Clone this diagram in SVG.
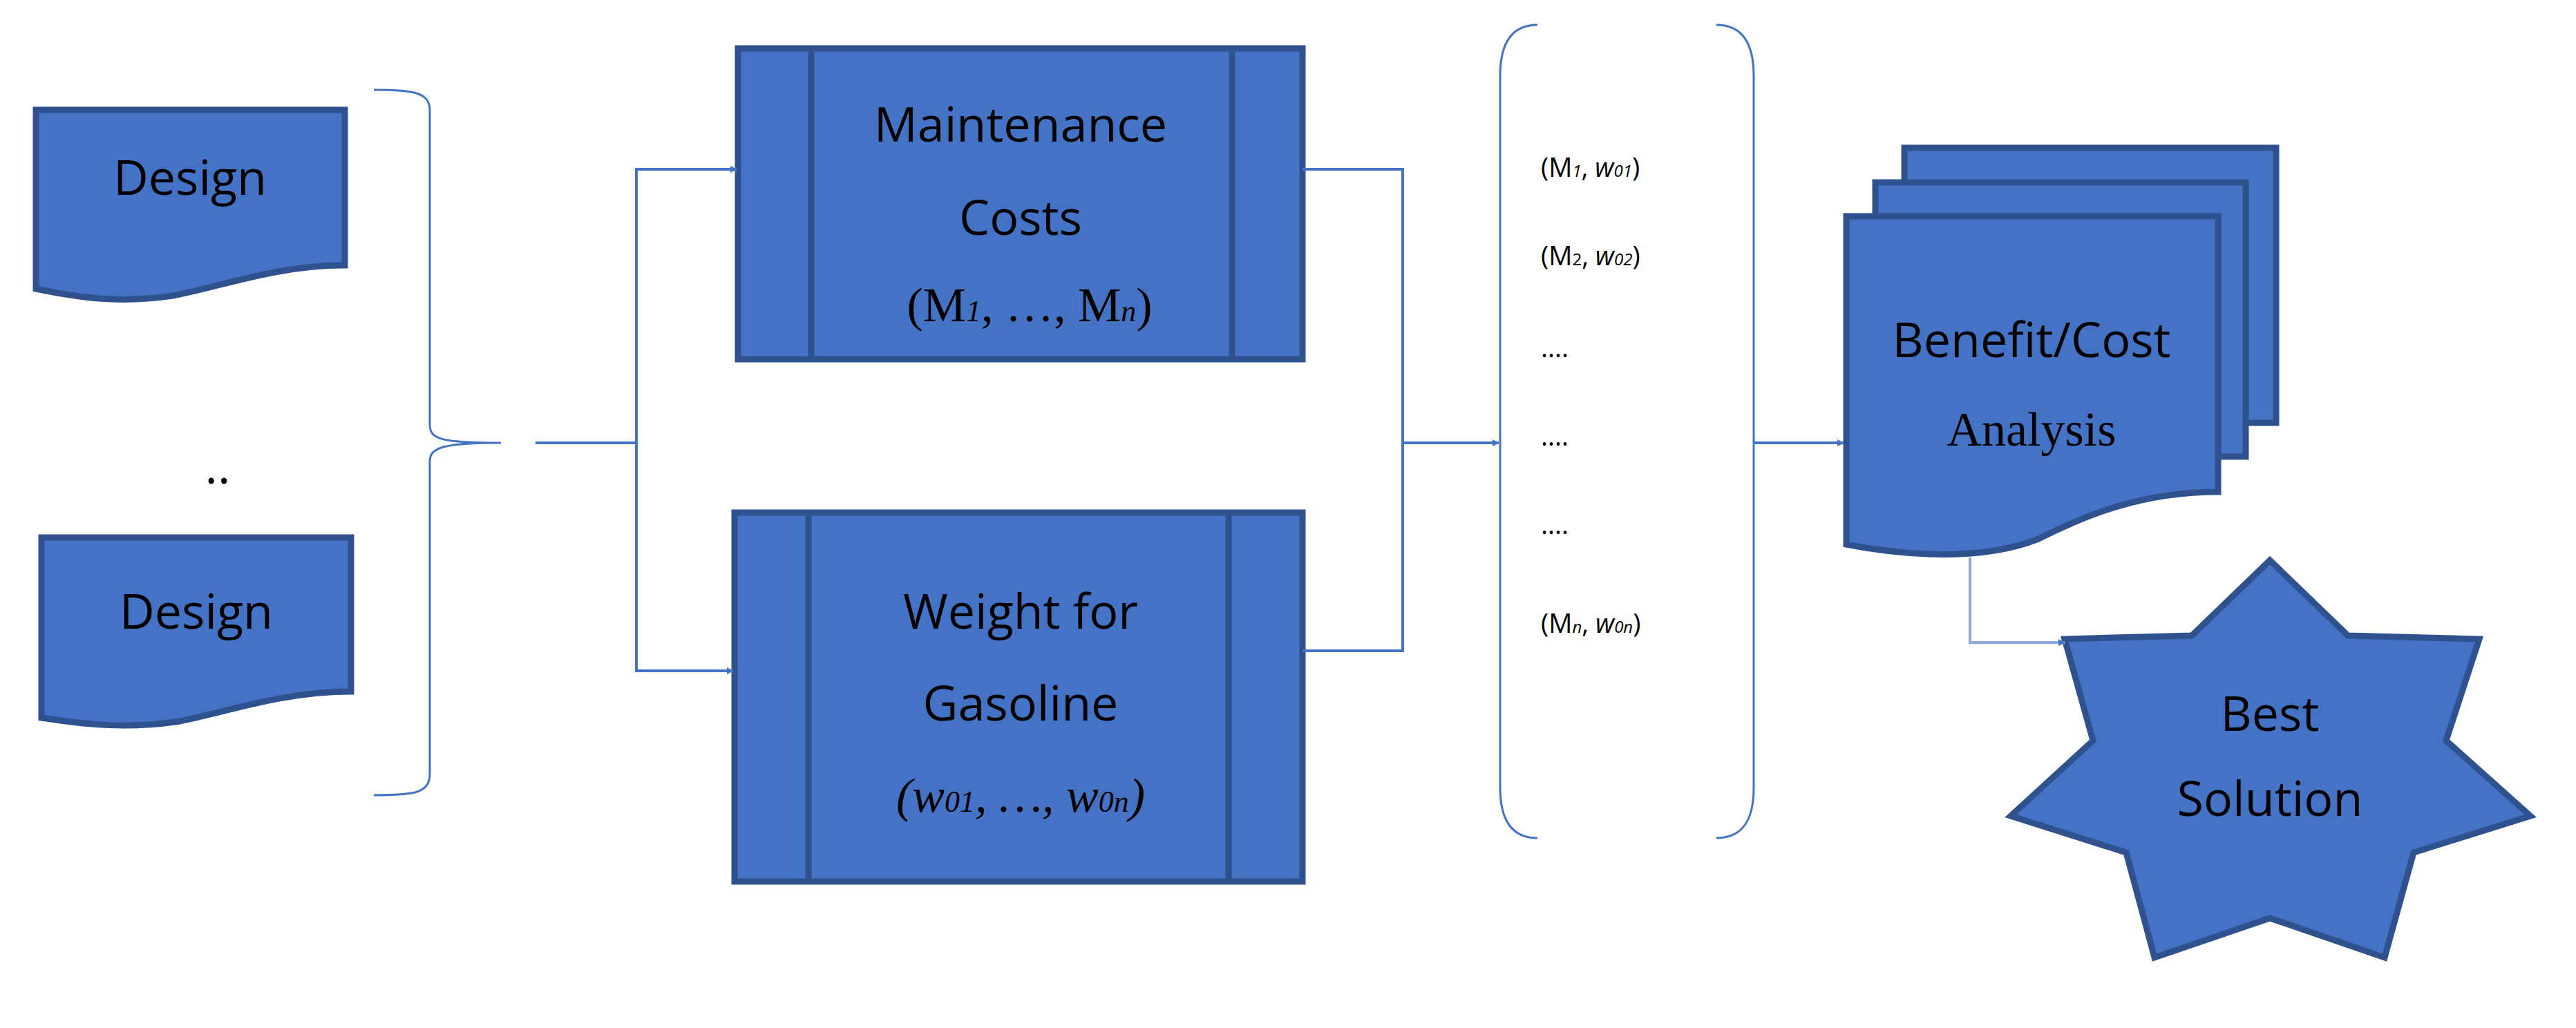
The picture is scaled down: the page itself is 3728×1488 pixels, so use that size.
<svg xmlns="http://www.w3.org/2000/svg" width="3728" height="1488" viewBox="0 0 3728 1488">
<style>
.n{fill:#4472C4;stroke:#2F528F;stroke-width:9}
.t{font-family:"Open Sans","Liberation Sans",sans-serif;font-size:70px;fill:#000;text-anchor:middle}
.s{font-family:"Liberation Serif",serif;font-size:70px;fill:#000;text-anchor:middle}
.c{fill:none;stroke:#4472C4;stroke-width:4}
.l{font-family:"Open Sans","Liberation Sans",sans-serif;font-size:38px;fill:#000}
</style>
<defs><marker id="a" markerWidth="10" markerHeight="10" refX="9" refY="5" orient="auto" markerUnits="userSpaceOnUse" viewBox="0 0 10 10"><path d="M0,0L10,5L0,10z" fill="#4472C4"/></marker></defs>
<rect width="3728" height="1488" fill="#fff"/>
<g id="design1"><path class="n" d="M52,159H499V384C400,384 320,415 250,428C170,440 110,430 52,418Z"/><text class="t" x="275" y="282">Design</text></g>
<g id="dots"><text class="t" x="315" y="700">..</text></g>
<g id="design2"><path class="n" d="M60,778H508V1001C410,1001 330,1030 260,1044C180,1056 120,1048 60,1039Z"/><text class="t" x="284" y="910">Design</text></g>
<g id="brace"><path class="c" style="stroke-width:3" d="M541,130C600,130 622,134 622,160V615C622,636 640,641 725,641M541,1151C600,1151 622,1148 622,1120V668C622,648 640,641 725,641"/></g>
<g id="maint"><rect class="n" x="1068" y="70" width="817" height="450"/><line class="n" x1="1174" y1="70" x2="1174" y2="520"/><line class="n" x1="1783" y1="70" x2="1783" y2="520"/>
<text class="t" x="1477" y="205">Maintenance</text><text class="t" x="1477" y="340">Costs</text>
<text class="s" x="1490" y="465">(M<tspan font-style="italic" font-size="44">1</tspan>, …, M<tspan font-style="italic" font-size="44">n</tspan>)</text></g>
<g id="weight"><rect class="n" x="1063" y="742" width="822" height="534"/><line class="n" x1="1170" y1="742" x2="1170" y2="1276"/><line class="n" x1="1778" y1="742" x2="1778" y2="1276"/>
<text class="t" x="1477" y="910">Weight for</text><text class="t" x="1477" y="1043">Gasoline</text>
<text class="s" x="1477" y="1175" font-style="italic">(w<tspan font-size="44">01</tspan>, …, w<tspan font-size="44">0n</tspan>)</text></g>
<g id="pairs"><path class="c" style="stroke-width:3" d="M2225,36C2190,36 2171,60 2171,110V1140C2171,1190 2190,1213 2225,1213M2484,36C2520,36 2538,60 2538,110V1140C2538,1190 2520,1213 2484,1213"/>
<text class="l" x="2230" y="256">(M<tspan font-size="24" font-style="italic">1</tspan>, <tspan font-style="italic">w</tspan><tspan font-size="24" font-style="italic">01</tspan>)</text>
<text class="l" x="2230" y="384">(M<tspan font-size="24">2</tspan>, <tspan font-style="italic">w</tspan><tspan font-size="24" font-style="italic">02</tspan>)</text>
<text class="l" x="2230" y="517">....</text><text class="l" x="2230" y="645">....</text><text class="l" x="2230" y="773">....</text>
<text class="l" x="2230" y="916">(M<tspan font-size="24" font-style="italic">n</tspan>, <tspan font-style="italic">w</tspan><tspan font-size="24" font-style="italic">0n</tspan>)</text></g>
<g id="benefit"><rect class="n" x="2756" y="214" width="538" height="398"/><rect class="n" x="2714" y="264" width="536" height="397"/>
<path class="n" d="M2672,313H3210V712C3100,712 3020,745 2950,780C2870,812 2760,805 2672,788Z"/>
<text class="t" x="2940" y="517">Benefit/Cost</text><text class="s" x="2940" y="645">Analysis</text></g>
<g id="best"><path class="n" d="M3285,811L3398,920L3588,925L3540,1072L3662,1181L3493,1234L3451,1386L3285,1329L3118,1386L3077,1234L2910,1181L3029,1072L2988,925L3172,920Z"/>
<text class="t" x="3285" y="1058">Best</text><text class="t" x="3285" y="1181">Solution</text></g>
<g id="connectors">
<path class="c" d="M775,641H921" /><path class="c" marker-end="url(#a)" d="M921,641V245H1066"/><path class="c" marker-end="url(#a)" d="M921,641V971H1061"/>
<path class="c" d="M1885,245H2030V942H1885"/><path class="c" marker-end="url(#a)" d="M2030,641H2169"/>
<path class="c" marker-end="url(#a)" d="M2538,641H2668"/>
<path class="c" style="stroke:#8FAADC" marker-end="url(#a)" d="M2851,807V930H2988"/>
</g>
</svg>
